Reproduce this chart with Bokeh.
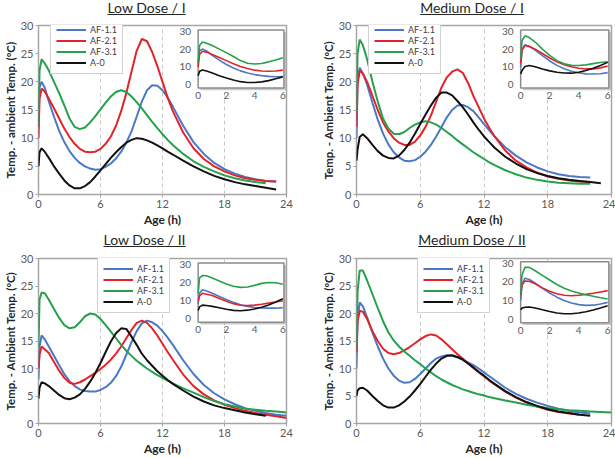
from bokeh.plotting import figure
from bokeh.layouts import column, row
from bokeh.models import Range1d, FixedTicker, Div
from bokeh.core.properties import value
from bokeh.embed import file_html
from bokeh.resources import INLINE

nan = float("nan")

# ---------------------------------------------------------------- data
hours = [0, 0.1, 0.3, 0.6, 1, 1.5, 2, 2.5, 3, 3.5,
         4, 4.5, 5, 5.5, 6, 6.5, 7, 7.5, 8, 8.5,
         9, 9.5, 10, 10.5, 11, 11.5, 12, 12.5, 13, 14,
         15, 16, 17, 18, 19, 20, 21, 22, 23, 24]

series_labels = ["AF-1.1", "AF-2.1", "AF-3.1", "A-0"]
series_colors = ["#4a78c6", "#e3232b", "#25a04c", "#111111"]

x_ticks = [0, 6, 12, 18, 24]
y_ticks = [0, 5, 10, 15, 20, 25, 30]
inset_x_ticks = [0, 2, 4, 6]
inset_y_ticks = [0, 10, 20, 30]

# Low Dose / I
low1_af11 = [12, 19, 20, 19, 16.5, 13.8, 11.3, 9.3, 7.7, 6.5,
             5.6, 5.0, 4.6, 4.4, 4.5, 4.9, 5.5, 6.4, 7.6, 9.2,
             11.2, 13.8, 16.5, 18.5, 19.4, 19.3, 18.5, 17.2, 15.6, 12.2,
             9.3, 7.2, 5.6, 4.5, 3.7, 3.1, 2.7, 2.4, 2.3, nan]
low1_af21 = [10, 17, 18.8, 18.3, 17, 15.3, 13.5, 11.7, 10.2, 9.0,
             8.1, 7.6, 7.5, 7.6, 8.1, 9.0, 10.3, 12.2, 14.8, 18.0,
             21.8, 25.5, 27.6, 27.2, 25.3, 22.8, 20.0, 17.2, 14.8, 11.0,
             8.2, 6.3, 5.0, 4.1, 3.4, 2.9, 2.6, 2.4, 2.3, nan]
low1_af31 = [12.5, 22, 24, 23.3, 22, 20, 18, 15.8, 13.5, 12.0,
             11.6, 11.9, 12.8, 13.9, 15.1, 16.3, 17.4, 18.2, 18.5, 18.2,
             17.4, 16.4, 15.3, 14.1, 12.9, 11.8, 10.7, 9.7, 8.8, 7.2,
             5.9, 4.9, 4.1, 3.4, 2.9, 2.5, 2.2, 2.0, nan, nan]
low1_a0 = [5, 7.5, 8.2, 7.6, 6.5, 5.0, 3.7, 2.5, 1.6, 1.1,
           1.1, 1.5, 2.2, 3.2, 4.3, 5.4, 6.5, 7.5, 8.4, 9.2,
           9.7, 10.0, 9.9, 9.6, 9.2, 8.7, 8.2, 7.6, 7.1, 6.0,
           5.0, 4.1, 3.3, 2.7, 2.2, 1.8, 1.5, 1.2, 0.9, nan]

# Medium Dose / I
med1_af11 = [10, 20, 22.5, 21.5, 19.5, 16.3, 13.3, 10.8, 8.9, 7.5,
             6.6, 6.0, 5.9, 6.1, 6.7, 7.6, 8.8, 10.3, 12.0, 13.7,
             15.0, 15.8, 15.9, 15.5, 14.8, 13.7, 12.5, 11.4, 10.3, 8.4,
             6.9, 5.7, 4.8, 4.1, 3.6, 3.3, 3.1, 3.0, nan, nan]
med1_af21 = [12, 19.5, 22, 21.5, 20, 17.5, 15, 12.8, 11.2, 10.0,
             9.2, 8.8, 8.8, 9.4, 10.5, 12.0, 14.0, 16.5, 19.0, 20.8,
             21.8, 22.2, 21.6, 19.8, 17.5, 15.5, 13.5, 11.8, 10.3, 7.8,
             6.0, 4.8, 3.9, 3.2, 2.8, 2.5, 2.3, 2.2, nan, nan]
med1_af31 = [15, 25, 27.5, 26.5, 24, 20, 16.5, 13.5, 11.7, 10.8,
             10.7, 11.1, 11.8, 12.4, 12.8, 13.0, 12.8, 12.4, 11.8, 11.1,
             10.4, 9.6, 8.9, 8.2, 7.5, 6.9, 6.3, 5.7, 5.2, 4.3,
             3.6, 3.0, 2.6, 2.3, 2.1, 2.0, 1.9, 1.9, nan, nan]
med1_a0 = [6, 8, 10.2, 10.7, 10.0, 8.8, 7.7, 6.9, 6.5, 6.4,
           6.9, 7.9, 9.2, 10.8, 12.5, 14.2, 15.8, 17.2, 18.1, 18.1,
           17.6, 16.6, 15.5, 14.2, 12.8, 11.5, 10.3, 9.3, 8.3, 6.7,
           5.5, 4.5, 3.8, 3.3, 2.9, 2.6, 2.4, 2.2, 2.0, nan]

# Low Dose / II
low2_af11 = [8, 14, 16, 15.3, 14, 12.3, 10.6, 9.0, 7.7, 6.8,
             6.2, 5.9, 5.8, 5.8, 6.1, 6.6, 7.4, 8.6, 10.3, 12.5,
             14.8, 16.8, 18.2, 18.7, 18.4, 17.8, 16.8, 15.6, 14.3, 11.5,
             9.0, 7.0, 5.5, 4.4, 3.5, 2.8, 2.3, 1.9, 1.6, 1.4]
low2_af21 = [10, 12.5, 14, 13.5, 12.8, 11.2, 9.6, 8.3, 7.4, 7.2,
             7.5, 8.0, 8.6, 9.2, 9.9, 10.7, 11.6, 12.7, 14.0, 15.5,
             17.0, 18.3, 18.7, 18.3, 17.3, 16.0, 14.5, 13.0, 11.6, 8.9,
             6.8, 5.3, 4.2, 3.4, 2.8, 2.3, 1.9, 1.6, 1.3, 1.0]
low2_af31 = [14, 22.5, 23.8, 23.7, 22.5, 20.8, 19.2, 17.9, 17.3, 17.5,
             18.4, 19.5, 20.0, 19.8, 19.0, 17.9, 16.7, 15.5, 14.3, 13.2,
             12.3, 11.4, 10.7, 10.0, 9.4, 8.8, 8.3, 7.8, 7.3, 6.4,
             5.6, 4.8, 4.1, 3.5, 3.1, 2.7, 2.5, 2.3, 2.2, 2.0]
low2_a0 = [4.5, 6.5, 7.5, 7.3, 6.8, 6.0, 5.2, 4.6, 4.4, 4.7,
           5.3, 6.3, 7.6, 9.2, 11.0, 13.0, 14.9, 16.4, 17.3, 17.2,
           15.8, 14.3, 12.7, 11.5, 10.5, 9.5, 8.7, 7.9, 7.2, 6.0,
           4.9, 4.0, 3.3, 2.8, 2.4, 2.0, 1.7, 1.4, nan, nan]

# Medium Dose / II
med2_af11 = [10, 19, 22, 21.3, 19.3, 16.5, 14.0, 11.8, 10.0, 8.7,
             7.8, 7.4, 7.5, 8.1, 9.0, 10.0, 11.0, 11.8, 12.2, 12.4,
             12.3, 12.0, 11.6, 11.1, 10.6, 10.0, 9.3, 8.6, 7.9, 6.5,
             5.4, 4.5, 3.8, 3.2, 2.7, 2.3, 2.0, 1.8, nan, nan]
med2_af21 = [13, 18.5, 20.5, 20.3, 19.0, 16.8, 15.0, 13.6, 12.8, 12.6,
             12.8, 13.3, 13.9, 14.6, 15.3, 15.9, 16.2, 16.0, 15.3, 14.4,
             13.5, 12.6, 11.8, 10.9, 10.1, 9.3, 8.6, 7.8, 7.1, 5.8,
             4.7, 3.8, 3.1, 2.5, 2.1, 1.8, 1.6, nan, nan, nan]
med2_af31 = [14, 24, 27.8, 27.8, 26, 23.5, 21, 18.6, 16.6, 15.1,
             14.0, 13.1, 12.3, 11.5, 10.8, 10.0, 9.3, 8.6, 8.0, 7.5,
             7.0, 6.6, 6.2, 5.9, 5.6, 5.3, 5.1, 4.8, 4.6, 4.2,
             3.8, 3.4, 3.1, 2.8, 2.6, 2.4, 2.3, 2.2, 2.1, 2.0]
med2_a0 = [5, 6.0, 6.4, 6.5, 6.0, 5.0, 4.1, 3.3, 2.9, 2.9,
           3.3, 4.0, 4.9, 6.0, 7.2, 8.5, 9.8, 10.9, 11.8, 12.3,
           12.4, 12.1, 11.6, 10.9, 10.2, 9.4, 8.7, 7.9, 7.2, 5.9,
           4.8, 3.9, 3.2, 2.6, 2.2, 1.9, 1.6, 1.4, nan, nan]

FONT = "Lato"
TICK_COLOR = "#595959"
FRAME_COLOR = "#a6a6a6"
LABEL_COLOR = "#262626"


def title_div(text, width, height, line_height, shift):
    html = (f'<div style="position:relative; left:{shift}px; width:{width}px; '
            f'height:{height}px; line-height:{line_height}px; text-align:center; '
            f'font-family:{FONT}; font-size:14px; font-weight:normal; color:#262626; '
            f'text-decoration:underline;">{text}</div>')
    return Div(text=html, width=width, height=height, margin=0)


def build_panel(title, y_title, curves, width, height, left, right, top, bottom,
                legend_at, title_height, title_line, title_shift, inset_target_y):
    p = figure(width=width, height=height - title_height, title=None,
               x_range=Range1d(0, 24), y_range=Range1d(0, 30),
               output_backend="svg", toolbar_location=None,
               min_border_left=left, min_border_right=right,
               min_border_top=top, min_border_bottom=bottom,
               background_fill_color="white", border_fill_color="white")
    p.outline_line_color = FRAME_COLOR
    p.outline_line_width = 1.5

    for ax, ticks in ((p.xaxis[0], x_ticks), (p.yaxis[0], y_ticks)):
        ax.ticker = FixedTicker(ticks=ticks)
        ax.axis_line_color = None
        ax.major_tick_in = 0
        ax.major_tick_out = 3
        ax.major_tick_line_color = FRAME_COLOR
        ax.minor_tick_line_color = None
        ax.major_label_standoff = 2
        ax.major_label_text_font = FONT
        ax.major_label_text_font_size = "11px"
        ax.major_label_text_color = TICK_COLOR
        ax.axis_label_text_font = FONT
        ax.axis_label_text_font_style = "bold"
        ax.axis_label_text_color = LABEL_COLOR
        ax.axis_label_standoff = 1

    p.xaxis.axis_label = "Age (h)"
    p.xaxis.axis_label_text_font_size = "12px"
    p.yaxis.axis_label = y_title
    p.yaxis.axis_label_text_font_size = "11.5px"

    p.xgrid.ticker = FixedTicker(ticks=x_ticks[1:-1])
    p.xgrid.grid_line_color = "#c8c8c8"
    p.xgrid.grid_line_dash = "4 3"
    p.ygrid.grid_line_color = None

    # main curves
    for vals, name, color in zip(curves, series_labels, series_colors):
        p.line(hours, vals, line_color=color, line_width=2, legend_label=name)

    lg = p.legend[0]
    lg.location = legend_at
    lg.label_text_font = FONT
    lg.label_text_font_size = "9px"
    lg.label_text_color = "#404040"
    lg.glyph_width = 30
    lg.glyph_height = 9
    lg.label_height = 9
    lg.label_standoff = 4
    lg.spacing = 0
    lg.padding = 5
    lg.margin = 0
    lg.border_line_color = FRAME_COLOR
    lg.border_line_width = 1.5
    lg.background_fill_alpha = 1

    # inset: first six hours, drawn in its own sub-coordinates
    xs = Range1d(0, 6.08)
    ys = Range1d(-2, 30.8)
    sp = p.subplot(x_source=xs, y_source=ys,
                   x_target=Range1d(15.45, 23.75), y_target=Range1d(*inset_target_y))
    sp.quad(left=[xs.start + 0.15], right=[xs.end + 0.15],
            bottom=[ys.start - 1.2], top=[ys.end - 1.2],
            fill_color="#8c8c8c", fill_alpha=0.45, line_color=None)
    sp.quad(left=[xs.start], right=[xs.end], bottom=[ys.start], top=[ys.end],
            fill_color="white", fill_alpha=1.0, line_color="#8c8c8c", line_width=1.5)
    n6 = sum(1 for h in hours if h <= 6)
    for vals, color in zip(curves, series_colors):
        sp.line(hours[:n6], vals[:n6], line_color=color, line_width=1.6)
    sp.text(x=inset_x_ticks, y=[ys.start] * len(inset_x_ticks),
            text=[str(v) for v in inset_x_ticks], y_offset=4,
            text_align="center", text_baseline="top",
            text_font=value(FONT), text_font_size="10px", text_color=TICK_COLOR)
    sp.text(x=[xs.start] * len(inset_y_ticks), y=inset_y_ticks,
            text=[str(v) for v in inset_y_ticks], x_offset=-7,
            text_align="right", text_baseline="middle",
            text_font=value(FONT), text_font_size="10px", text_color=TICK_COLOR)

    div = title_div(title, width, title_height, title_line, title_shift)
    return column(div, p, spacing=0)


ylab_lower = "Temp. - ambient Temp. (\u00baC)"
ylab_upper = "Temp. - Ambient Temp. (\u00baC)"

p1 = build_panel("Low Dose / I", ylab_lower, [low1_af11, low1_af21, low1_af31, low1_a0],
                 307, 229, 30, 21, 5, 32, (12, 120), 20, 16, -7, (18.9, 29.2))
p2 = build_panel("Medium Dose / I", ylab_upper, [med1_af11, med1_af21, med1_af31, med1_a0],
                 308, 229, 49, 4, 5, 32, (12, 120), 20, 16, 11, (18.9, 29.2))
p3 = build_panel("Low Dose / II", ylab_upper, [low2_af11, low2_af21, low2_af31, low2_a0],
                 307, 229, 30, 21, 7, 30, (59, 110), 22, 22, -9, (18.4, 29.2))
p4 = build_panel("Medium Dose / II", ylab_upper, [med2_af11, med2_af21, med2_af31, med2_a0],
                 308, 229, 49, 4, 7, 30, (61, 110), 22, 22, 11, (18.3, 29.4))

layout = column(row(p1, p2, spacing=0), row(p3, p4, spacing=0), spacing=0)

open("out.html", "w").write(file_html(layout, INLINE))
